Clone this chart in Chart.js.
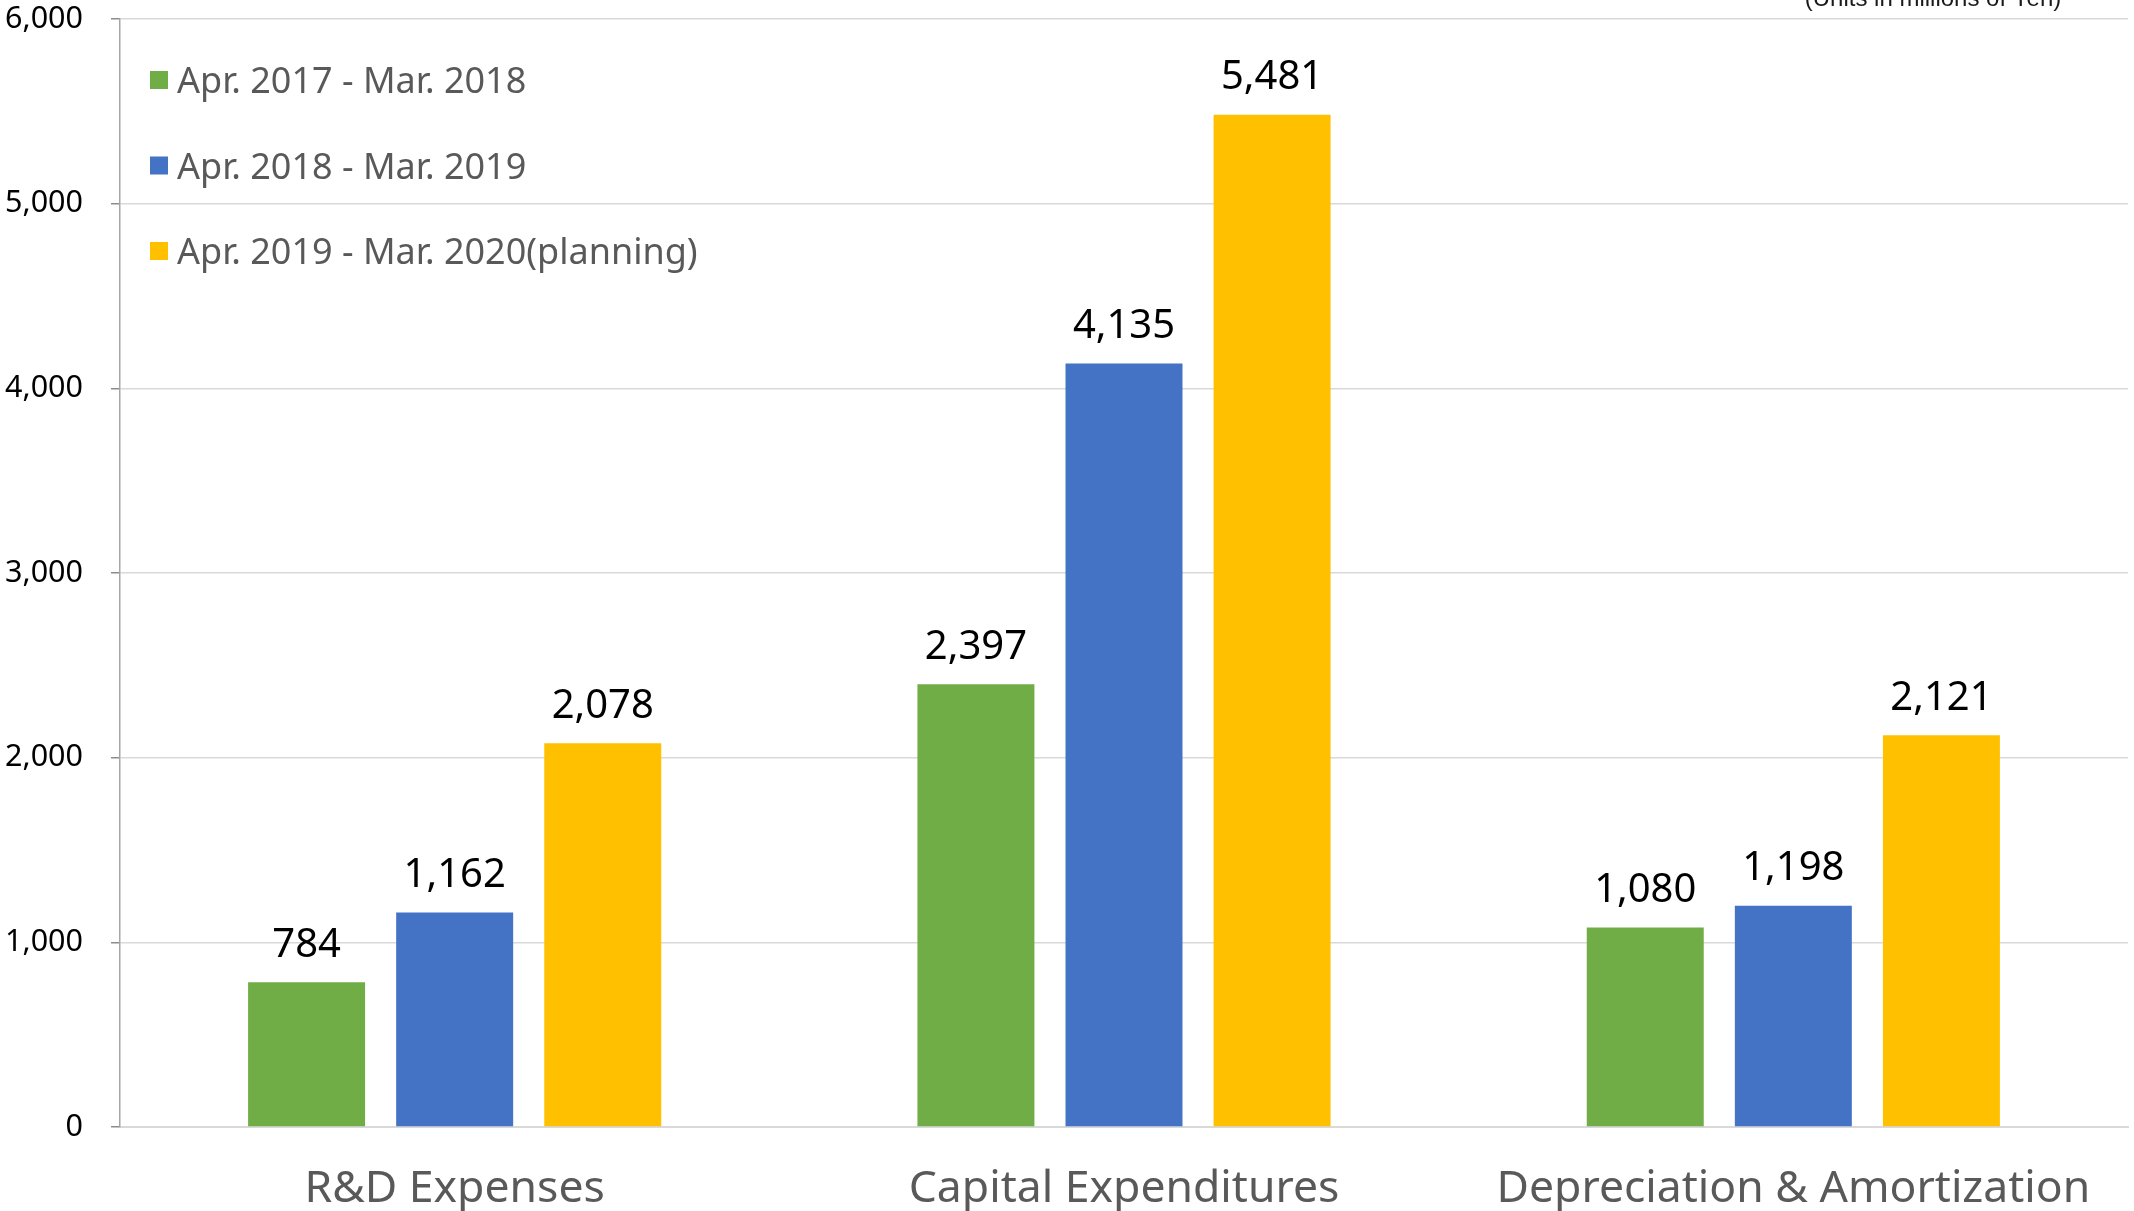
<!DOCTYPE html>
<html>
<head>
<meta charset="utf-8">
<script src="https://cdn.jsdelivr.net/npm/chart.js@4.4.1/dist/chart.umd.min.js"></script>
<style>
  html, body { margin: 0; padding: 0; background: #ffffff; }
  #wrap { width: 2134px; height: 1211px; position: relative; }
</style>
</head>
<body>
<div id="wrap"><canvas id="c" width="2134" height="1211"></canvas></div>
<script>
const categories = ['R&D Expenses', 'Capital Expenditures', 'Depreciation & Amortization'];
const seriesLabels = ['Apr. 2017 - Mar. 2018', 'Apr. 2018 - Mar. 2019', 'Apr. 2019 - Mar. 2020(planning)'];
const fy2017 = [784, 2397, 1080];
const fy2018 = [1162, 4135, 1198];
const fy2019 = [2078, 5481, 2121];
const seriesColors = ['#70AD47', '#4472C4', '#FFC000'];
const yTicks = [0, 1000, 2000, 3000, 4000, 5000, 6000];
const unitNote = '(Units in millions of Yen)';

const FONT = "'Noto Sans', 'DejaVu Sans', sans-serif";

const overlayPlugin = {
  id: 'overlay',
  afterDatasetsDraw(chart) {
    const ctx = chart.ctx;
    ctx.save();
    // data labels
    ctx.font = '40px ' + FONT;
    ctx.fillStyle = '#000000';
    ctx.textAlign = 'center';
    ctx.textBaseline = 'middle';
    chart.data.datasets.forEach((ds, i) => {
      const meta = chart.getDatasetMeta(i);
      meta.data.forEach((bar, j) => {
        const v = ds.data[j];
        ctx.fillText(v.toLocaleString('en-US'), bar.x, bar.y - 37);
      });
    });
    // legend
    const lx = chart.chartArea.left + 30;
    const ly0 = 80;
    const dy = 85.5;
    ctx.font = '36px ' + FONT;
    ctx.textAlign = 'left';
    ctx.textBaseline = 'middle';
    chart.data.datasets.forEach((ds, i) => {
      const y = ly0 + i * dy;
      ctx.fillStyle = ds.backgroundColor;
      ctx.fillRect(lx, y - 9, 18, 18);
      ctx.fillStyle = '#595959';
      ctx.fillText(ds.label, lx + 27, y + 3);
    });
    // unit note (clipped at top)
    ctx.font = "24px 'Liberation Sans', Arial, sans-serif";
    ctx.fillStyle = '#1a1a1a';
    ctx.textAlign = 'center';
    ctx.textBaseline = 'alphabetic';
    ctx.fillText(unitNote, 1933, 6);
    ctx.restore();
  }
};

new Chart(document.getElementById('c'), {
  type: 'bar',
  data: {
    labels: categories,
    datasets: [
      { label: seriesLabels[0], data: fy2017, backgroundColor: seriesColors[0] },
      { label: seriesLabels[1], data: fy2018, backgroundColor: seriesColors[1] },
      { label: seriesLabels[2], data: fy2019, backgroundColor: seriesColors[2] }
    ]
  },
  options: {
    responsive: false,
    devicePixelRatio: 1,
    animation: false,
    layout: { padding: { top: 19, right: 6, left: 0, bottom: 0 } },
    datasets: { bar: { categoryPercentage: 0.6637, barPercentage: 0.79 } },
    plugins: { legend: { display: false }, tooltip: { enabled: false } },
    scales: {
      x: {
        afterFit(scale) { scale.height = 84; scale.paddingLeft = 0; scale.paddingRight = 0; },
        grid: { display: false, drawTicks: false },
        border: { display: true, color: '#d9d9d9', width: 2 },
        ticks: { color: '#595959', font: { family: FONT, size: 44.5 }, padding: 36 }
      },
      y: {
        min: 0, max: 6000,
        afterFit(scale) { scale.width = 120; scale.paddingTop = 0; scale.paddingBottom = 0; },
        afterBuildTicks(scale) { scale.ticks = yTicks.map(v => ({ value: v })); },
        grid: { color: '#d9d9d9', lineWidth: 1.5, tickLength: 9, tickColor: '#8c8c8c' },
        border: { display: true, color: '#a6a6a6', width: 1.5 },
        ticks: {
          color: '#000000',
          font: { family: FONT, size: 30.5 },
          padding: 28,
          callback: v => Number(v).toLocaleString('en-US')
        }
      }
    }
  },
  plugins: [overlayPlugin]
});
</script>
</body>
</html>
